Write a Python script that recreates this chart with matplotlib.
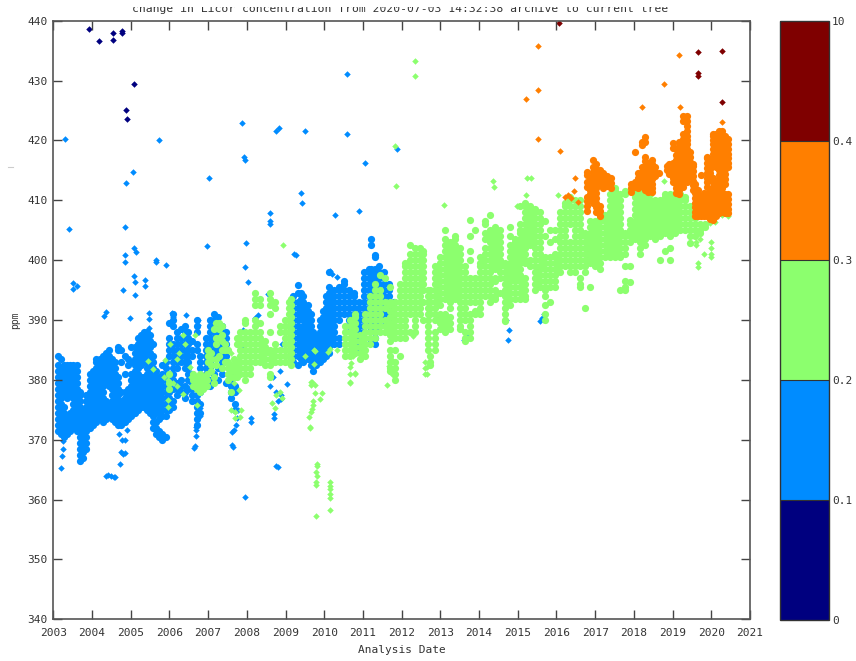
import matplotlib
matplotlib.use('Agg')
import matplotlib.pyplot as plt
from matplotlib.cm import ScalarMappable
from matplotlib.colors import BoundaryNorm, ListedColormap
from matplotlib.lines import Line2D
from matplotlib.patches import Rectangle

# colour classes of the change
class_bounds = [0, 1, 2, 3, 4, 5]
class_labels = ['0', '0.1', '0.2', '0.3', '0.4', '10']
class_colors = ['#00007f', '#008cff', '#8cff6e', '#ff7f00', '#7f0000']

year_ticks = list(range(2003, 2022))
ppm_ticks = list(range(340, 441, 10))

title = 'change in Licor concentration from 2020-07-03 14:32:38 archive to current tree'

# single soundings
navy_year = [2003.93, 2004.17, 2004.55, 2004.55, 2004.78, 2004.78, 2004.87, 2004.90, 2005.08]
navy_ppm = [438.6, 436.6, 437.9, 436.8, 438.3, 438.0, 425.0, 423.5, 429.5]

dark_year = [2016.07, 2019.66, 2020.28, 2019.66, 2019.66, 2020.28]
dark_ppm = [439.6, 434.7, 434.9, 431.2, 430.8, 426.5]

blue_year = [2003.30, 2003.41, 2003.50, 2003.50, 2003.62, 2004.32, 2004.36, 2004.88, 2004.84, 2005.05,
             2004.85, 2004.85, 2005.09, 2005.13, 2005.08, 2005.11, 2005.11, 2004.81, 2004.97, 2005.37,
             2005.37, 2005.46, 2005.47, 2005.46, 2005.72, 2005.66, 2005.66, 2005.90, 2006.06, 2006.08,
             2006.06, 2006.42, 2006.75, 2006.75, 2007.03, 2006.98, 2007.88, 2007.92, 2007.94, 2007.97,
             2007.94, 2008.03, 2008.76, 2008.82, 2008.60, 2008.60, 2008.60, 2009.51, 2009.40, 2009.42,
             2009.22, 2009.26, 2010.27, 2010.59, 2010.59, 2010.89, 2011.06, 2011.88, 2010.15, 2010.20,
             2010.33, 2003.25, 2003.25, 2003.22, 2003.20,
             2004.35, 2004.42, 2004.50, 2004.56, 2004.60, 2004.70, 2004.78, 2004.85, 2004.90, 2004.76,
             2004.80, 2004.84, 2004.72, 2009.03, 2008.88, 2008.80, 2008.88, 2008.70, 2008.70, 2008.76, 2008.80,
             2007.94, 2008.10, 2008.10, 2007.78, 2007.75, 2007.72, 2007.66, 2007.62, 2007.61, 2007.63,
             2006.68, 2006.68, 2006.68, 2006.64, 2006.67, 2006.80, 2006.80, 2007.90, 2007.90, 2008.20,
             2008.30, 2008.55, 2008.90, 2008.68, 2008.85, 2008.60, 2008.75, 2014.78, 2014.75, 2015.68,
             2015.62, 2015.58, 2013.68, 2013.72, 2013.62, 2014.70]
blue_ppm = [420.2, 405.2, 396.2, 395.2, 395.6, 390.6, 391.4, 412.9, 405.6, 414.8,
            400.9, 399.7, 402.0, 401.4, 397.3, 396.4, 394.1, 395.0, 390.3, 396.7,
            395.6, 391.1, 390.2, 388.6, 420.0, 400.0, 399.7, 399.2, 391.1, 390.5,
            389.7, 390.8, 390.0, 389.2, 413.8, 402.4, 422.9, 417.3, 416.8, 402.9,
            398.8, 396.4, 421.6, 422.0, 407.8, 406.6, 406.0, 421.6, 411.2, 409.5,
            401.0, 400.8, 407.6, 431.1, 421.0, 408.2, 416.3, 418.6, 398.2, 397.7,
            397.1, 369.8, 368.4, 367.3, 365.2,
            364.0, 364.1, 364.0, 363.8, 363.7, 371.0, 370.0, 369.9, 371.6, 368.0,
            367.6, 367.8, 365.9, 379.3, 376.8, 376.4, 377.4, 374.3, 373.6, 365.6, 365.5,
            360.4, 373.7, 373.0, 375.0, 373.6, 372.5, 371.6, 371.3, 369.2, 368.8,
            372.1, 371.6, 370.7, 368.6, 368.9, 375.3, 373.9, 388.3, 385.8, 390.3,
            390.8, 394.4, 386.0, 380.5, 381.5, 379.0, 378.0, 388.3, 386.7, 391.0,
            390.4, 389.9, 386.9, 387.4, 386.6, 390.0]

green_year = [2012.34, 2012.34, 2011.82, 2011.85, 2008.93, 2013.09, 2014.37, 2014.38, 2015.23, 2015.34,
              2015.20, 2016.05, 2014.99, 2018.79, 2009.79, 2009.81, 2009.81, 2009.79, 2009.81, 2009.79, 2009.78,
              2010.16, 2010.16, 2010.16, 2010.16, 2010.16, 2010.16, 2009.64, 2009.64, 2009.60, 2009.66,
              2009.68, 2009.77, 2009.72, 2009.70, 2009.90, 2009.94, 2009.68, 2009.75, 2009.75, 2010.66,
              2010.70, 2010.80, 2011.63, 2011.67, 2011.72, 2011.76, 2011.80, 2011.80, 2012.65, 2012.65,
              2012.30, 2005.44, 2005.57, 2006.02, 2005.89, 2006.36, 2006.40, 2006.66, 2006.20, 2006.26,
              2005.85, 2005.97, 2006.10, 2006.20, 2005.97, 2005.97, 2006.36, 2006.53, 2006.57, 2006.70,
              2007.60, 2007.70, 2007.85, 2007.70, 2007.83, 2007.60, 2007.52, 2007.66, 2007.80, 2009.50,
              2009.73, 2009.73, 2009.67, 2009.67, 2010.10, 2010.15, 2010.32, 2010.58, 2010.83, 2010.75,
              2010.66, 2010.66, 2010.79, 2010.66, 2008.85, 2008.92, 2008.72, 2008.75, 2008.65, 2019.60,
              2019.60, 2019.65, 2019.65, 2019.72, 2019.80, 2019.98, 2019.98, 2019.98, 2019.98, 2020.42,
              2020.27, 2019.97, 2020.10, 2012.60, 2012.60, 2012.60]
green_ppm = [433.2, 430.8, 419.1, 412.4, 402.6, 409.2, 413.3, 412.2, 413.8, 413.8,
             410.9, 410.8, 409.0, 413.3, 357.2, 366.0, 365.6, 364.6, 364.0, 362.9, 362.4,
             362.9, 362.2, 361.7, 361.0, 360.2, 358.2, 371.9, 372.2, 373.8, 374.6,
             375.2, 377.8, 376.4, 375.8, 376.8, 377.8, 379.7, 379.2, 384.9, 379.6,
             382.8, 381.1, 379.2, 382.3, 381.1, 383.4, 385.0, 380.6, 382.2, 380.9,
             387.3, 383.2, 381.8, 386.0, 383.3, 387.5, 386.0, 387.5, 383.5, 384.5,
             380.5, 380.0, 379.5, 379.0, 376.6, 375.5, 377.7, 382.2, 380.5, 375.8,
             375.0, 374.6, 375.0, 373.6, 373.8, 384.5, 382.0, 379.5, 378.3, 384.0,
             385.0, 382.7, 379.7, 379.1, 384.7, 385.2, 385.0, 385.0, 384.7, 384.0,
             382.2, 381.0, 381.0, 379.4, 378.0, 376.9, 375.3, 377.5, 376.2, 403.0,
             402.5, 399.5, 398.8, 403.5, 401.0, 403.0, 402.0, 401.0, 400.6, 407.3,
             407.5, 406.2, 406.4, 383.0, 382.0, 381.0]

orange_year = [2015.51, 2015.51, 2015.20, 2015.51, 2016.10, 2016.48, 2019.16, 2018.79, 2018.20, 2019.19,
               2020.28, 2016.22, 2016.30, 2016.38, 2016.44, 2016.56]
orange_ppm = [435.7, 428.5, 426.9, 420.3, 418.3, 413.7, 434.2, 429.5, 425.5, 425.5,
              423.1, 410.6, 410.8, 410.4, 411.6, 409.7]

# dense parts, read as stacks of soundings per date
blue_stacks = [
    (2003.12, [371.5, 372.5, 373.5, 374.5, 375.5, 376.5, 377.5, 378.5, 379.5, 380.5, 381.5, 382.5, 384]),
    (2003.20, [371, 372, 373, 374, 375, 376, 377, 378, 379, 380, 381, 382, 383.5]),
    (2003.28, [370.5, 371.5, 372.5, 373.5, 374.5, 375.5, 377.5, 378.5, 379.5, 380.5, 381.5, 382.5]),
    (2003.36, [371, 372, 373, 374, 377, 378, 379, 380, 381, 382, 382.5]),
    (2003.44, [371.5, 372.5, 373.5, 374.5, 377.5, 378.5, 379.5, 380.5, 381.5, 382.5]),
    (2003.52, [372, 373, 374, 375, 376, 377, 378, 379, 380, 381, 382, 382.5]),
    (2003.60, [371.5, 372.5, 373.5, 374.5, 375.5, 376.5, 377.5, 378.5, 379.5, 380.5, 381.5, 382.5]),
    (2003.68, [366.5, 367.5, 368.5, 369.5, 370.5, 371.5, 372.5, 373.5, 374.5, 375.5, 376.5, 377.5, 378]),
    (2003.76, [367, 368, 369, 370, 371, 372, 373, 374, 375]),
    (2003.85, [368.5, 369.5, 370.5, 371.5, 372.5, 373.5, 374.5, 375.5, 376.5, 377.5]),
    (2003.94, [372, 373, 374, 375, 376, 377, 378, 379, 380, 381]),
    (2004.03, [372.5, 373.5, 374.5, 375.5, 376.5, 377.5, 378.5, 379.5, 380.5, 381.5]),
    (2004.11, [373, 374, 375, 376, 377, 378, 379, 380, 381, 382, 383, 383.5]),
    (2004.20, [373.5, 374.5, 375.5, 376.5, 377.5, 378.5, 379.5, 380.5, 381.5, 382.5, 383.5]),
    (2004.28, [373, 374, 375, 376, 377, 378, 379, 380, 381, 382, 383, 384]),
    (2004.36, [373.5, 374.5, 375.5, 376.5, 379.5, 380.5, 381.5, 382.5, 383.5, 384.5]),
    (2004.44, [374, 375, 376, 379, 380, 381, 382, 383, 384, 385]),
    (2004.52, [373.5, 374.5, 375.5, 376.5, 377.5, 378.5, 379.5, 380.5, 381.5, 382.5, 383.5]),
    (2004.60, [373, 374, 375, 376, 377, 378, 379, 380, 381, 382, 383]),
    (2004.68, [372.5, 373.5, 374.5, 375.5, 376.5, 377.5, 378.5, 379.5, 380.5, 385.5, 385]),
    (2004.76, [372.5, 373.5, 374.5, 375.5, 376.5, 378, 383, 385]),
    (2004.84, [373, 374, 375, 376, 377, 378, 384, 381]),
    (2004.93, [373.5, 374.5, 375.5, 376.5, 377.5, 378.5, 382.5, 383.5]),
    (2005.01, [374, 375, 376, 377, 378, 379, 380, 381, 383, 385.5]),
    (2005.10, [374.5, 375.5, 376.5, 377.5, 378.5, 379.5, 380.5, 381.5, 382.5, 383.5, 384.5, 385.5]),
    (2005.18, [375, 376, 377, 378, 379, 380, 381, 382, 383, 384, 385, 386, 387]),
    (2005.26, [375.5, 376.5, 377.5, 378.5, 379.5, 380.5, 382.5, 383.5, 384.5, 385.5, 386.5, 387.5]),
    (2005.34, [375.5, 376.5, 377.5, 378.5, 379.5, 380.5, 383, 384, 385, 386, 387, 388]),
    (2005.42, [375, 376, 377, 378, 379, 380, 381, 382, 383, 384, 385, 386, 387, 388]),
    (2005.50, [374.5, 375.5, 376.5, 377.5, 378.5, 379.5, 380.5, 381.5, 382.5, 383.5, 384.5, 385.5, 386.5, 387.5]),
    (2005.58, [372, 373, 374, 375, 376, 377, 378, 379, 380, 381, 382, 383, 384, 386]),
    (2005.66, [371, 372, 373, 374.5, 375.5, 376.5, 377.5, 378.5, 379.5, 380.5, 381.5]),
    (2005.74, [370.5, 371.5, 373.5, 374.5, 375.5, 376.5, 377.5, 378.5, 379.5, 380.5]),
    (2005.82, [370, 371, 374, 375, 376, 377, 378, 379, 380, 381, 382.5]),
    (2005.90, [370.5, 374, 375, 376, 377, 378, 379, 380, 381, 382, 383]),
    (2005.99, [375, 376, 377, 378, 379, 380, 381, 384, 385, 386, 387, 389.5]),
    (2006.09, [375.5, 376.5, 378.5, 380, 381, 382, 383, 384, 385, 386, 389, 390, 391]),
    (2006.19, [377.5, 378.5, 379.5, 382, 383, 384, 385, 386, 387, 388]),
    (2006.29, [378, 379, 380, 383, 384, 385, 386, 387, 388.5]),
    (2006.39, [377, 378, 379, 382, 383, 384, 385, 386, 387, 388, 389]),
    (2006.49, [378.5, 380, 381, 382, 383, 384, 385, 386, 387, 388]),
    (2006.59, [376.5, 377.5, 378.5, 379.5, 381, 384, 385, 386.5]),
    (2006.70, [372.5, 373.5, 374.5, 375.5, 376.5, 377.5, 378.5, 379.5, 380.5, 385, 386, 388, 389, 390]),
    (2006.80, [374.5, 376, 378, 379, 382, 383, 384]),
    (2006.95, [379, 381, 382, 383, 384, 385, 386, 387]),
    (2007.05, [379, 380, 382, 383, 384, 385, 386, 387, 388, 389, 390]),
    (2007.15, [381, 384, 385, 386, 387, 388, 389, 390, 391]),
    (2007.25, [380, 382, 384.5, 385.5, 386.5, 387.5, 388.5, 389.5, 390.5]),
    (2007.35, [381, 383, 384, 385, 386, 387, 388, 389]),
    (2007.45, [379.5, 384, 385, 386, 387, 388]),
    (2007.60, [377, 378, 379, 380, 381]),
    (2007.70, [375, 376, 378, 379]),
    (2009.20, [383, 384, 385, 386, 387, 388, 389, 390, 391, 392, 393, 394]),
    (2009.33, [382.5, 384, 385, 386, 387, 388, 389, 390, 391, 392, 393, 394.5, 395.8]),
    (2009.40, [383.5, 384.5, 385.5, 386.5, 387.5, 388.5, 390.5, 391.5, 392.5, 393.5, 394.5]),
    (2009.46, [383, 384, 385, 386, 387, 388, 389, 390, 391, 392, 393, 394]),
    (2009.59, [383.5, 384.5, 385.5, 386.5, 387.5, 388.5, 389.5, 390.5, 391.5, 392.5]),
    (2009.66, [382.5, 383.5, 384.5, 385.5, 388, 389, 390, 391]),
    (2009.72, [381.5, 383, 384, 385, 386, 387, 388]),
    (2009.80, [382.5, 383.5, 384.5, 385.5, 386.5, 387.5]),
    (2009.88, [383, 384, 385, 386, 387, 388, 389, 390]),
    (2009.98, [383.5, 384.5, 385.5, 386.5, 387.5, 388.5, 389.5, 390.5, 391.5]),
    (2010.05, [384, 385, 386, 387, 388, 389, 390, 391, 392, 393, 394]),
    (2010.13, [384.5, 385.5, 386.5, 387.5, 388.5, 389.5, 390.5, 391.5, 392.5, 393.5, 394.5, 395.5, 398]),
    (2010.24, [386, 387, 388, 389, 390, 391, 392, 393, 394, 395]),
    (2010.37, [386, 387, 390, 391, 392, 393, 394, 395, 395.5]),
    (2010.50, [391, 392, 393, 394, 395, 396, 396.5]),
    (2010.63, [389, 390, 391, 392, 393, 394, 395]),
    (2010.76, [390, 391, 392, 393, 394, 394.5]),
    (2010.89, [385, 386, 387, 388, 389, 390, 391, 392, 393]),
    (2011.02, [387, 388, 389, 390, 391, 392, 393, 394, 395, 396, 397, 398]),
    (2011.15, [390, 391, 392, 393, 394, 395, 396, 397, 398, 398.5]),
    (2011.22, [386.5, 388.5, 389.5, 390.5, 391.5, 392.5, 393.5, 394.5, 395.5, 396.5, 397.5, 398.5, 403.5, 402.5]),
    (2011.30, [386, 387, 388, 389, 390, 391, 392, 393, 394, 395, 396, 397, 398, 398.5, 400.9, 400.5]),
    (2011.41, [389, 390, 391, 392, 393, 394, 395, 396, 397, 398, 399]),
    (2011.54, [390, 391, 392, 393, 394, 395, 396, 397, 398]),
    (2011.67, [390, 391, 392, 393, 394, 395, 396]),
    (2011.80, [391, 393]),
]

green_stacks = [
    (2005.98, [378.5, 379.5, 381]),
    (2006.62, [379, 380, 381]),
    (2006.72, [378.5, 379.5, 380.5]),
    (2006.80, [378, 379, 380, 381]),
    (2006.88, [378.5, 379.5, 380.5]),
    (2006.97, [379, 380, 381]),
    (2007.00, [383, 384, 385]),
    (2007.08, [381.5, 382.5, 383.5, 384.5]),
    (2007.14, [379.5, 380.5, 388.5]),
    (2007.20, [382.5, 383.5, 387, 386, 389.5]),
    (2007.27, [389.5, 388.5, 387, 384]),
    (2007.36, [387.5, 386.5, 385, 382, 389]),
    (2007.44, [386, 385, 383]),
    (2007.52, [380, 381, 382, 383, 385]),
    (2007.60, [380.5, 381.5, 382.5, 378]),
    (2007.67, [380.5, 381.5, 382.5, 383.5]),
    (2007.75, [380.5, 381.5, 382.5, 383, 386, 387]),
    (2007.82, [381, 382, 383, 384, 385, 386, 387, 388]),
    (2007.95, [380, 381, 382, 383, 384, 385, 386, 387, 388, 389.5, 390]),
    (2008.08, [381, 382, 383, 384, 385, 386, 387, 388]),
    (2008.21, [383, 384, 385, 386, 387, 388, 389, 390, 392.5, 393.5, 394.5]),
    (2008.34, [383, 384, 385, 386, 387, 388, 389.5, 392.5, 393.5]),
    (2008.47, [382.5, 383.5, 384.5, 385.5, 386.5]),
    (2008.60, [380.5, 381, 382.5, 383.5, 384.5, 385, 388, 391, 392.5, 393.5, 394.5]),
    (2008.72, [383, 384, 385, 386, 392, 393]),
    (2008.85, [383, 384, 385, 388, 389]),
    (2008.98, [383, 384, 385, 386, 387, 388, 389, 390]),
    (2009.08, [383, 384, 385, 386, 387, 388, 389, 390, 391, 392, 393]),
    (2009.15, [382.5, 383.5, 384.5, 385.5, 386.5, 387.5, 388.5, 389.5, 390.5, 391.5, 392.5, 393.5]),
    (2010.53, [384, 385, 386, 387, 388, 389]),
    (2010.66, [384, 385, 386, 387, 388, 389, 390]),
    (2010.79, [384.5, 385.5, 386.5, 387.5, 388.5, 389.5, 390.5, 391]),
    (2010.92, [383.5, 384.5, 385.5, 386.5, 387.5]),
    (2011.05, [384, 385, 386, 387, 388, 389, 390, 391]),
    (2011.18, [386, 387, 388, 389, 390, 391, 392, 393, 394]),
    (2011.31, [387, 388, 389, 390, 391, 392, 393, 394, 395, 396]),
    (2011.44, [388, 389, 390, 391, 392, 393, 394, 395, 397.5]),
    (2011.57, [388, 389, 390, 392, 393, 397]),
    (2011.70, [381.5, 382, 383, 384, 385, 386.5, 387.5, 388.5, 389.5, 390.5, 391.5, 392.5, 393, 395.5]),
    (2011.83, [380, 381, 382, 383, 385, 387, 388, 389, 390, 391, 392, 393]),
    (2011.95, [384, 387, 388, 389, 390, 391, 392, 393, 394, 395, 396]),
    (2012.08, [387, 388, 389, 390, 391, 392, 393, 394, 395, 396, 397, 398, 399, 399.5]),
    (2012.21, [388, 391, 392, 393, 394, 395, 396, 397, 398, 399, 400, 401, 402.5]),
    (2012.34, [388, 389, 390, 391, 392, 393, 394, 395, 396, 397, 398, 399, 400, 401, 402]),
    (2012.47, [391, 392, 393, 394, 395, 396, 397, 398, 399, 400, 401, 402]),
    (2012.56, [390, 393, 395, 396, 397, 398, 399, 400, 401, 401.5]),
    (2012.69, [385, 386, 387, 388, 389, 390, 391, 392, 393, 394, 395]),
    (2012.73, [382.5, 383, 384, 391, 392, 393, 394, 395]),
    (2012.86, [385, 386, 387, 388, 390, 391, 392, 393, 394, 395, 396, 397, 398, 399]),
    (2012.99, [388.5, 389.5, 390.5, 391, 392.5, 393.5, 394.5, 395.5, 396.5, 397.5, 398.5, 399.5, 400.5]),
    (2013.12, [388, 389, 390, 391, 393.5, 394.5, 395.5, 396.5, 397.5, 398.5, 399.5, 400.5, 401.5, 402.5, 403.5, 405]),
    (2013.25, [388.5, 389.5, 390.5, 392, 393, 394, 395, 396, 397, 398, 399, 400, 401, 402, 403]),
    (2013.38, [393.5, 394.5, 395.5, 396.5, 397.5, 398.5, 399.5, 400.5, 401.5, 402.5, 403.5, 404]),
    (2013.51, [388.5, 389, 390, 391, 392, 393, 394, 395, 396, 397, 398, 399, 400, 401, 402]),
    (2013.63, [386.5, 387, 388, 390, 391, 392, 393, 394, 395, 396, 397, 398, 399]),
    (2013.76, [387, 388, 389, 390, 391, 393, 394, 395, 396, 397, 400, 401.5, 404, 406.7]),
    (2013.89, [391, 391.5, 393, 394, 395, 396, 397, 405]),
    (2014.02, [391, 392, 393, 394, 395, 396, 397, 398, 399, 399.5, 400.5]),
    (2014.15, [394, 395, 396, 397, 398, 399, 400, 401, 402, 403.5, 404.5, 406, 406.5]),
    (2014.28, [393, 394, 395, 396, 397, 398, 399, 400, 401, 402, 403, 404, 405, 407.5]),
    (2014.41, [393.5, 394, 395, 396.5, 397, 398.5, 399.5, 400.5, 401.5, 402.5, 403.5, 404.5, 405.5]),
    (2014.54, [394.5, 397, 398, 399, 400, 401, 402, 403, 404, 405]),
    (2014.67, [389.8, 390, 391, 392, 393, 394, 395, 396, 397, 398, 399, 399.5]),
    (2014.80, [392.5, 393.5, 394.5, 395.5, 396.5, 397.5, 398.5, 399.5, 400.5, 401.5, 402.5, 404, 405.5]),
    (2014.93, [393.5, 394.5, 395.5, 396.5, 397, 398, 399, 400, 401, 402, 403, 403.5]),
    (2015.06, [393.5, 394.5, 395.5, 396.5, 397.5, 398.5, 399.5, 400.5, 401.5, 402.5, 403.5, 404.5, 405, 406, 409]),
    (2015.19, [393.5, 394, 395, 396, 397, 399.5, 400, 401, 402, 403, 404, 405, 406, 407, 408, 409, 409.5]),
    (2015.31, [399, 400, 402.5, 403.5, 404.5, 405.5, 406.5, 407.5, 408.5, 409]),
    (2015.44, [395, 396, 397, 398, 399, 400, 401, 402, 403, 404, 405, 406, 407, 408, 408.5]),
    (2015.57, [395.5, 396.5, 397.5, 398.5, 399, 400, 401, 402, 403, 404, 405, 406, 407, 408]),
    (2015.70, [390, 391, 392.5, 394, 395, 395.5, 396.5, 397.5, 398.5, 399.5, 400.5, 404, 406.5]),
    (2015.83, [393, 395.5, 396.5, 397.5, 398.5, 399.5, 400.5, 403, 405]),
    (2015.96, [395.5, 396.5, 397.5, 398.5, 399.5, 400.5, 401, 403.5, 405]),
    (2016.09, [398, 399, 400, 401, 402, 403, 404, 405, 406, 407, 408]),
    (2016.22, [399, 400, 401, 402, 403, 404, 405, 406, 407, 408, 409, 409.5]),
    (2016.35, [398, 399, 400, 401, 402, 403, 406, 407, 408, 409, 410, 410.5]),
    (2016.48, [398, 399, 400, 401, 402, 403, 404, 405, 406, 407, 408, 409, 410]),
    (2016.61, [395.5, 396, 397, 399, 400, 401, 402, 403, 404, 405, 406, 407, 408, 409, 410]),
    (2016.74, [392, 398, 399, 400, 401, 402, 403, 404, 404.5]),
    (2016.86, [395.5, 399.5, 400.5, 401.5, 402.5, 403.5, 404.5, 405.5, 406.5]),
    (2016.99, [399, 400, 401, 402, 403, 404, 405, 406, 406.5]),
    (2017.12, [398.5, 399.5, 400.5, 401.5, 402.5, 403.5, 404.5, 405.5, 406.5, 407]),
    (2017.25, [400.5, 401.5, 402.5, 403.5, 404.5, 405.5, 406.5, 407.5]),
    (2017.38, [400.5, 401, 402, 403, 404, 405, 406, 407, 408, 409, 410, 411]),
    (2017.51, [400.5, 401.5, 402.5, 403.5, 404.5, 405.5, 406.5, 407.5, 408.5, 409.5, 410.5, 411.5, 412]),
    (2017.64, [395, 400.5, 401, 402, 403, 404, 405, 406, 407, 408, 409, 410, 411]),
    (2017.77, [395, 395.5, 396.5, 399, 401, 402, 403, 404, 404.5, 411, 411.5]),
    (2017.90, [396.4, 399, 403, 404, 405, 406, 406.7]),
    (2018.03, [403.5, 404.5, 405.5, 406.5, 407.5, 408.5, 409.5, 410.5, 411.5]),
    (2018.16, [401, 402, 403, 404, 405, 406, 407, 408, 409, 410, 411, 412]),
    (2018.29, [402.5, 403.5, 404.5, 405.5, 406.5, 407.5, 408.5, 409.5, 410.5, 411.5, 412]),
    (2018.42, [404, 405, 406, 407, 408, 409, 410, 411, 412]),
    (2018.55, [403.5, 404.5, 405.5, 406.5, 407.5, 408.5, 409.5, 410]),
    (2018.68, [400, 404, 405, 406, 407, 408, 409, 410]),
    (2018.81, [401.5, 404.5, 405.5, 406.5, 407.5, 408.5, 409.5, 410.5, 411]),
    (2018.94, [400, 402, 404, 405, 406, 407, 408, 409, 410, 411]),
    (2019.07, [404.5, 405.5, 406.5, 407.5, 408.5, 409.5, 410.5, 411]),
    (2019.20, [405, 406, 407, 408, 409, 410, 411]),
    (2019.33, [405, 406, 407, 408, 409, 410, 410.5]),
    (2019.46, [402.8, 404, 405, 406, 407, 408, 409]),
    (2019.59, [404, 405, 406, 407]),
    (2019.72, [404.5, 405, 406]),
    (2019.85, [405.5, 406]),
]

orange_stacks = [
    (2016.78, [408.2, 409, 409.8, 410.6, 412.3, 413, 414.3, 414.8]),
    (2016.86, [410.2, 411, 411.8, 412.6, 413.4]),
    (2016.95, [409.5, 410, 410.8, 411.6, 412.4, 413.2, 414, 414.8, 415.6, 416.7]),
    (2017.03, [408, 408.8, 409.6, 410.4, 411.2, 412, 412.8, 413.6, 414.4, 415.2, 416]),
    (2017.12, [407.4, 408.2, 409, 412.6, 413.4, 414.2, 415]),
    (2017.20, [412.1, 412.9, 413.7, 414.5]),
    (2017.30, [412.4, 413.2, 414]),
    (2017.42, [412, 412.9, 413.7]),
    (2017.93, [411.4, 412, 412.8]),
    (2018.02, [412.2, 413, 418]),
    (2018.10, [412.1, 412.9, 413.7, 414.5]),
    (2018.20, [412.4, 413.2, 414, 414.8, 415.6, 419.2, 419.8]),
    (2018.28, [411.7, 412.5, 413.3, 414.1, 414.9, 415.7, 416.5, 417.3, 419.8, 420.6]),
    (2018.37, [411.4, 412.2, 413, 413.8, 414.6, 415.4, 416.2]),
    (2018.46, [411.4, 412, 412.8, 413.6, 414.4, 415.2, 416, 416.8]),
    (2018.55, [414, 414.8, 415.6]),
    (2018.64, [414.5]),
    (2018.85, [415, 415.8]),
    (2018.92, [414.4, 415.2, 416]),
    (2019.00, [413, 413.8, 414.6, 415.4, 416.2, 418.7, 419.5]),
    (2019.08, [411.2, 412, 412.7, 413.5, 414.3, 415.1, 415.9, 416.7, 417.5, 418.5]),
    (2019.17, [411, 411.8, 412.6, 413.4, 414.2, 415, 415.8, 416.6, 417.4, 418.2, 419, 419.8]),
    (2019.27, [412.3, 413.1, 413.9, 414.7, 415.5, 416.3, 417.1, 417.9, 418.7, 419.5, 420.2, 421, 423.2, 424]),
    (2019.36, [413, 413.8, 414.6, 415.4, 416.2, 417, 417.8, 418.6, 419.4, 420, 420.8, 421.6, 422.4, 423.2, 424]),
    (2019.44, [414, 414.8, 415.6, 416.4, 417.2, 418]),
    (2019.52, [411.7, 412.5, 413.3, 414.1, 414.9, 415.7, 416]),
    (2019.58, [407.3, 408, 408.8, 409.6, 410.4, 411.2, 412, 412.8]),
    (2019.66, [407.3, 407.8, 408.6, 409.4, 410.2, 411, 411.7]),
    (2019.74, [407.3, 408, 408.8, 409.6, 410.4, 414.2]),
    (2019.82, [407.3, 408, 408.8, 409.6, 410.4, 411.2]),
    (2019.88, [407.3, 408, 408.8, 409.6, 410.4, 411.1, 412.3, 413, 413.8, 414.6, 415.4, 416.2, 417, 417.3]),
    (2019.96, [406.9, 407.6, 408.4, 409.2, 410, 410.8, 411.6, 413.4, 414.5, 415.3, 416.1, 416.9]),
    (2020.04, [406.7, 407.4, 408.2, 409, 409.8, 410.6, 411.4, 412.2, 413, 413.8, 416.2, 417, 417.8, 418.6, 419.4, 420.1, 420.8, 421]),
    (2020.12, [407.3, 408, 408.8, 409.6, 410.4, 411.2, 412, 412.8, 415.5, 416.2, 417, 417.8, 418.6, 419.4, 420.2, 421]),
    (2020.20, [407.8, 408.6, 409.4, 410.2, 411, 411.8, 412.6, 413.4, 414.2, 415, 415.8, 416.6, 417.4, 418.2, 419, 419.8, 420.6, 421.5]),
    (2020.28, [408, 408.8, 409.6, 410.4, 411.2, 412, 412.8, 413.6, 414.4, 415.2, 416, 416.8, 417.6, 418.4, 419.2, 420, 420.8, 421.6]),
    (2020.36, [407.8, 408.6, 409.4, 410.2, 411, 412.8, 413.6, 414.4, 415.2, 416, 416.8, 417.6, 418.4, 419.2, 420, 420.8]),
    (2020.42, [407.8, 408.6, 409.4, 410.2, 411, 415.5, 416.2, 417, 417.8, 418.6, 419.4, 420.2]),
]


def unstack(stacks):
    xs, ys = [], []
    for year, values in stacks:
        for v in values:
            xs.append(year)
            ys.append(v)
    return xs, ys


plt.rcParams['font.family'] = 'DejaVu Sans Mono'
plt.rcParams['font.size'] = 8

fig = plt.figure(figsize=(8.56, 6.61), dpi=100)
ax = fig.add_axes([53.3 / 856, 1 - 619.3 / 661, (750 - 53.3) / 856, (619.3 - 20.7) / 661])

# stacks get a round dot so that they close up, singles stay small diamonds
dot = 27
single = 11
x, y = unstack(blue_stacks)
ax.scatter(x, y, s=dot, marker='o', c=class_colors[1], linewidths=0)
ax.scatter(blue_year, blue_ppm, s=single, marker='D', c=class_colors[1], linewidths=0)
x, y = unstack(green_stacks)
ax.scatter(x, y, s=dot, marker='o', c=class_colors[2], linewidths=0)
ax.scatter(green_year, green_ppm, s=single, marker='D', c=class_colors[2], linewidths=0)
x, y = unstack(orange_stacks)
ax.scatter(x, y, s=dot, marker='o', c=class_colors[3], linewidths=0)
ax.scatter(orange_year, orange_ppm, s=single, marker='D', c=class_colors[3], linewidths=0)
ax.scatter(navy_year, navy_ppm, s=single, marker='D', c=class_colors[0], linewidths=0)
ax.scatter(dark_year, dark_ppm, s=single, marker='D', c=class_colors[4], linewidths=0)

ax.set_xlim(2003, 2021)
ax.set_ylim(340, 440)
ax.set_xticks(year_ticks)
ax.set_yticks(ppm_ticks)
ax.tick_params(direction='in', top=True, right=True, length=6.3, width=1, color='#444444',
               labelsize=8, labelcolor='#333333')
ax.tick_params(axis='x', pad=6)
ax.tick_params(axis='y', pad=4)
for s in ax.spines.values():
    s.set_color('#555555')
    s.set_linewidth(1.2)

ax.set_xlabel('Analysis Date', fontsize=8, color='#333333', labelpad=5)
ax.set_ylabel('ppm', fontsize=7, color='#333333', labelpad=5)

# the top of the title is cut off in the original
fig.text(400 / 856, 1 - 9.5 / 661, title, ha='center', va='center', fontsize=8.2, color='#333333', zorder=1)
fig.add_artist(Rectangle((0, 1 - 7 / 661), 1, 7 / 661, transform=fig.transFigure, facecolor='white',
                         edgecolor='none', zorder=2))
fig.add_artist(Line2D([8 / 856, 13 / 856], [1 - 167 / 661, 1 - 167 / 661], color='#cccccc', linewidth=0.8))

cax = fig.add_axes([779.5 / 856, 1 - 620 / 661, 49.5 / 856, (620 - 20.7) / 661])
norm = BoundaryNorm(class_bounds, 5)
cbar = fig.colorbar(ScalarMappable(norm=norm, cmap=ListedColormap(class_colors)), cax=cax,
                    ticks=class_bounds, drawedges=True)
cbar.ax.set_yticklabels(class_labels)
cbar.ax.tick_params(length=0, labelsize=8, labelcolor='#333333', pad=2)
cbar.outline.set_edgecolor('#333333')
cbar.outline.set_linewidth(1)
cbar.dividers.set_color('#333333')
cbar.dividers.set_linewidth(0.8)

fig.savefig('out.png', dpi=100)
